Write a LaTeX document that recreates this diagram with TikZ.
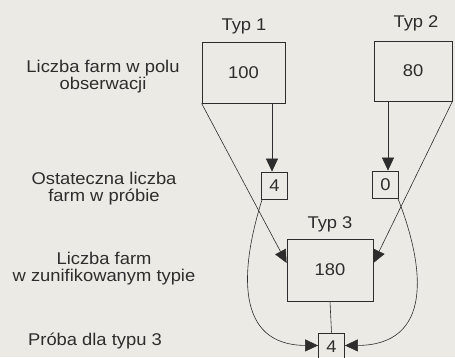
\documentclass[tikz,border=0pt]{standalone}
\usepackage{fontspec}
\setmainfont{Liberation Sans}[FakeStretch=1.08]
\usetikzlibrary{arrows.meta}
\definecolor{paper}{RGB}{236,234,229}
\definecolor{ink}{RGB}{45,45,45}
\begin{document}
\begin{tikzpicture}[x=1pt,y=-1pt,
  every node/.style={text=ink,font=\fontsize{17}{17}\selectfont},
  bigbox/.style={draw=ink,line width=0.8pt,inner sep=0pt},
  smallbox/.style={draw=ink,line width=0.8pt,inner sep=0pt,minimum width=26pt,minimum height=27pt},
  lbl/.style={align=center,inner sep=0pt},
  conn/.style={draw=ink,line width=0.6pt},
  arr/.style={conn,-{Triangle[length=13pt,width=12pt]}}]
\fill[paper] (0,0) rectangle (455,357);
\useasboundingbox (0,0) rectangle (455,357);

% boxes
\node[bigbox,minimum width=83pt,minimum height=61pt] (t1) at (243.5,72.5) {100};
\node[bigbox,minimum width=78pt,minimum height=60pt] (t2) at (413,71) {80};
\node[smallbox] (s1) at (274.5,185.5) {4};
\node[smallbox] (s2) at (385.5,184.5) {0};
\node[bigbox,minimum width=86pt,minimum height=62pt] (t3) at (330,270) {180};
\node[smallbox] (s3) at (331.5,346.5) {4};

% type labels
\node[lbl,anchor=base] (l1) at (244,30) {Typ 1};
\node[lbl,anchor=base] (l2) at (416,27) {Typ 2};
\node[lbl,anchor=base] (l3) at (330,228) {Typ 3};

% left labels
\node[lbl] (a1) at (103,77) {Liczba farm w polu\\obserwacji};
\node[lbl] (a2) at (104,189) {Ostateczna liczba\\farm w próbie};
\node[lbl] (a3) at (104,269) {Liczba farm\\w zunifikowanym typie};
\node[lbl,anchor=base] (a4) at (95,345) {Próba dla typu 3};

% connectors
\coordinate (t3w) at ([yshift=7pt]t3.west);
\coordinate (t3e) at ([yshift=7pt]t3.east);
\draw[arr] (t1.south -| 272,0) -- (s1.north -| 272,0);
\draw[arr] (t2.south -| 388,0) -- (s2.north -| 388,0);
\draw[arr] (t1.south west) -- (t3w);
\draw[arr] (t2.south east) -- (t3e);
\draw[conn] (t3.south) -- (s3.north);
\draw[arr] ([xshift=1pt]s1.south west) .. controls (240,270) and (235,345) .. ([yshift=1pt]s3.west);
\draw[arr] ([xshift=-1pt]s2.south east) .. controls (426,270) and (432,345) .. ([yshift=1pt]s3.east);
\end{tikzpicture}
\end{document}
